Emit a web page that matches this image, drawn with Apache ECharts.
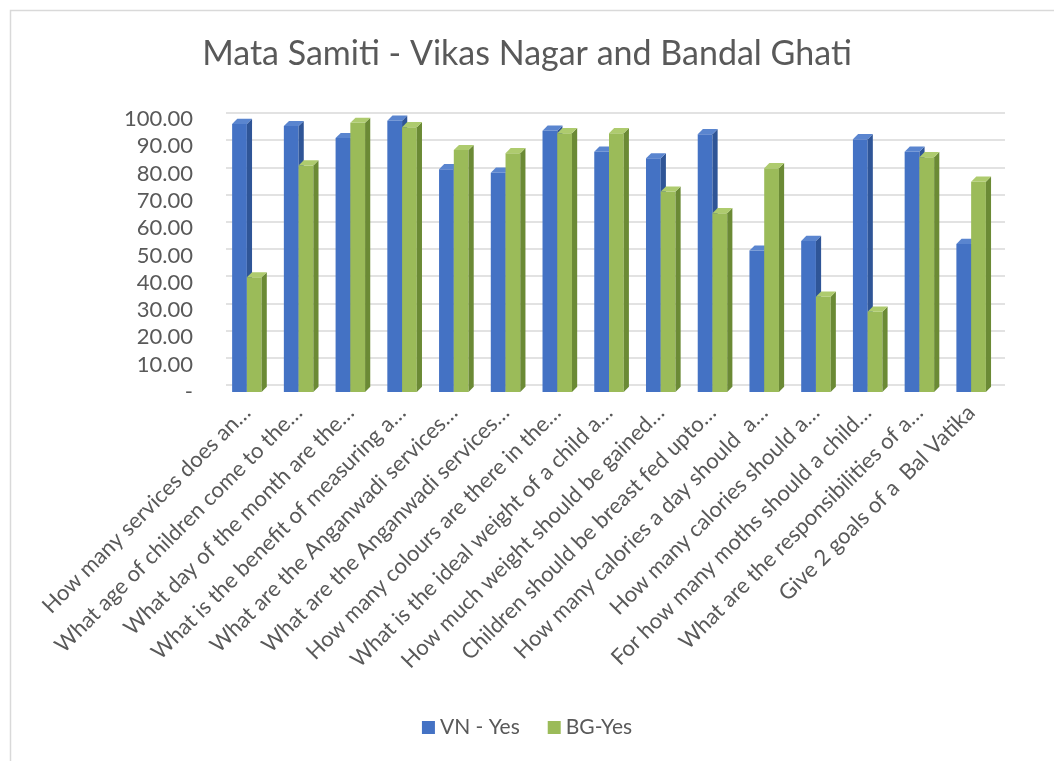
<!DOCTYPE html>
<html>
<head>
<meta charset="utf-8">
<script src="https://cdn.jsdelivr.net/npm/echarts@6/dist/echarts.min.js"></script>
<style>
  html, body { margin: 0; padding: 0; background: #fff; }
  #chart { width: 1054px; height: 761px; }
</style>
</head>
<body>
<div id="chart"></div>
<script>
// question labels (as shown, truncated)
const questions = [
  'How many services does an…',
  'What age of children come to the…',
  'What day of the month are the…',
  'What is the benefit of measuring a…',
  'What are the Anganwadi services…',
  'What are the Anganwadi services…',
  'How many colours are there in the…',
  'What is the ideal weight of a child a…',
  'How much weight should be gained…',
  'Children should be breast fed upto…',
  'How many calories a day should  a…',
  'How many calories should a…',
  'For how many moths should a child…',
  'What are the responsibilities of a…',
  'Give 2 goals of a  Bal Vatika'
]
const vnYes = [98.2, 97.4, 93.0, 99.4, 81.6, 80.3, 95.7, 88.0, 85.6, 94.4, 51.8, 55.3, 92.6, 88.0, 54.2]
const bgYes = [42.0, 83.0, 98.6, 97.0, 88.6, 87.5, 94.8, 94.8, 73.4, 65.5, 82.0, 34.9, 29.4, 86.0, 77.0]

const txt = '#595959'
const font = 'Lato'

// draws a simple 3D looking bar: front face, side and top
function bar3d(slot, front, side, top) {
  return function (params, api) {
    const idx = api.value(0)
    const v = api.value(1)
    const base = api.coord([idx, 0])
    const head = api.coord([idx, v])
    const band = api.size([1, 0])[0]
    const w = band * 0.285
    const d = band * 0.1
    const x0 = base[0] + (slot === 0 ? -w : 0)
    const yT = head[1]
    const yB = base[1]
    return {
      type: 'group',
      children: [
        { type: 'rect', shape: { x: x0, y: yT, width: w, height: yB - yT }, style: { fill: front } },
        { type: 'polygon', shape: { points: [[x0 + w, yT], [x0 + w + d, yT - d], [x0 + w + d, yB - d], [x0 + w, yB]] }, style: { fill: side } },
        { type: 'polygon', shape: { points: [[x0, yT], [x0 + d, yT - d], [x0 + w + d, yT - d], [x0 + w, yT]] }, style: { fill: top } }
      ]
    }
  }
}

const chart = echarts.init(document.getElementById('chart'))

chart.setOption({
  animation: false,
  backgroundColor: '#fff',
  graphic: [{
    type: 'rect', left: 8, top: 8,
    shape: { width: 1100, height: 800 },
    style: { fill: 'none', stroke: '#d9d9d9', lineWidth: 1.5 },
    silent: true, z: -10
  }],
  title: {
    text: 'Mata Samiti - Vikas Nagar and Bandal Ghati',
    left: 'center',
    top: 32,
    textStyle: { color: txt, fontSize: 34, fontWeight: 'normal', fontFamily: font }
  },
  legend: {
    bottom: 18,
    left: 'center',
    icon: 'rect',
    itemWidth: 13,
    itemHeight: 13,
    itemGap: 28,
    textStyle: { color: txt, fontSize: 21, fontFamily: font }
  },
  grid: [
    { left: 221, right: 57, top: 119, bottom: 369 },
    { left: 226, right: 49, top: 113, bottom: 376 }
  ],
  xAxis: [
    {
      type: 'category', gridIndex: 0, data: questions,
      axisLine: { show: false }, axisTick: { show: false },
      axisLabel: { rotate: 45, interval: 0, margin: 17, color: txt, fontSize: 22, fontFamily: font }
    },
    { type: 'category', gridIndex: 1, data: questions, show: false }
  ],
  yAxis: [
    {
      type: 'value', gridIndex: 0, min: 0, max: 100, interval: 10,
      splitLine: { show: false },
      axisLine: { show: false }, axisTick: { show: false },
      axisLabel: {
        margin: 28, color: txt, fontSize: 22, fontFamily: font,
        formatter: v => v === 0 ? '-' : v.toFixed(2)
      }
    },
    {
      type: 'value', gridIndex: 1, min: 0, max: 100, interval: 10,
      axisLine: { show: false }, axisTick: { show: false }, axisLabel: { show: false },
      splitLine: { lineStyle: { color: '#d9d9d9', width: 1.5 } }
    }
  ],
  series: [
    {
      name: 'VN - Yes', type: 'custom', xAxisIndex: 0, yAxisIndex: 0,
      itemStyle: { color: '#4472C4' },
      renderItem: bar3d(0, '#4472C4', '#2F5597', '#5A85CF'),
      data: vnYes.map((v, i) => [i, v])
    },
    {
      name: 'BG-Yes', type: 'custom', xAxisIndex: 0, yAxisIndex: 0,
      itemStyle: { color: '#9BBB59' },
      renderItem: bar3d(1, '#9BBB59', '#6B8A35', '#AECB6E'),
      data: bgYes.map((v, i) => [i, v])
    }
  ]
})
</script>
</body>
</html>
